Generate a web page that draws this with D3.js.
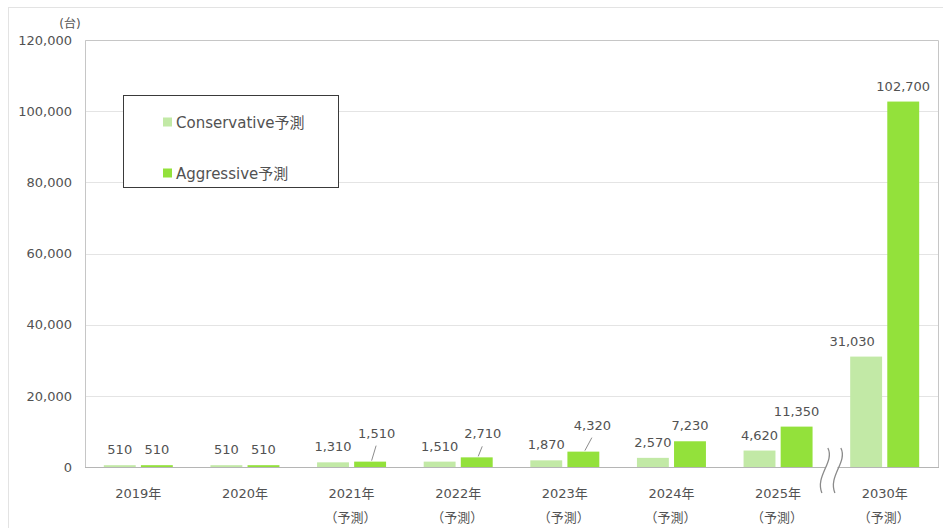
<!DOCTYPE html>
<html>
<head>
<meta charset="utf-8">
<script src="https://cdn.jsdelivr.net/npm/d3@7"></script>
<style>
  html, body { margin: 0; padding: 0; background: #fff; }
  svg { display: block; }
  text { font-family: "DejaVu Sans", "Noto Sans CJK JP", sans-serif; fill: #525252; }
</style>
</head>
<body>
<svg id="chart" width="943" height="528"></svg>
<script>
// ---- data ----
const categories = ["2019年", "2020年", "2021年", "2022年", "2023年", "2024年", "2025年", "2030年"];
const subLabels = ["", "", "（予測）", "（予測）", "（予測）", "（予測）", "（予測）", "（予測）"];
const seriesNames = ["Conservative予測", "Aggressive予測"];
const conservative = [510, 510, 1310, 1510, 1870, 2570, 4620, 31030];
const aggressive = [510, 510, 1510, 2710, 4320, 7230, 11350, 102700];
const yTicks = [0, 20000, 40000, 60000, 80000, 100000, 120000];
const yUnit = "(台)";

// ---- styles / layout ----
const colors = ["#c2e9a6", "#93e13b"];
const textColor = "#525252";
const plot = { left: 85, right: 938, top: 40, bottom: 467 };

const svg = d3.select("#chart");

// outer frame
svg.append("rect").attr("x", 8.5).attr("y", 7.5).attr("width", 960).attr("height", 560)
  .attr("fill", "none").attr("stroke", "#e3e3e3");

const x0 = d3.scaleBand().domain(categories).range([plot.left, plot.right]).padding(0);
const x1 = d3.scaleBand().domain(seriesNames).range([-34.5, 34.5]).paddingInner(0.14).paddingOuter(0);
const y = d3.scaleLinear().domain([0, 120000]).range([plot.bottom, plot.top]);

// gridlines
const grid = svg.append("g")
  .attr("transform", `translate(${plot.left},0)`)
  .call(d3.axisLeft(y).tickValues(yTicks).tickSize(-(plot.right - plot.left)).tickFormat(""));
grid.select(".domain").remove();
grid.selectAll("line").attr("stroke", "#e4e4e4").attr("shape-rendering", "crispEdges");

// plot border (top, left, right)
svg.append("path")
  .attr("d", `M${plot.left + 0.5},${plot.bottom}V${plot.top + 0.5}H${plot.right + 0.5}V${plot.bottom}`)
  .attr("fill", "none").attr("stroke", "#c6c6c6");

// y axis labels
const yAxis = svg.append("g")
  .attr("transform", `translate(${plot.left - 13},0)`)
  .call(d3.axisLeft(y).tickValues(yTicks).tickSize(0).tickPadding(0).tickFormat(d3.format(",")));
yAxis.select(".domain").remove();
yAxis.selectAll("text").attr("font-size", 13)
  .style("font-family", "\"DejaVu Sans\", sans-serif").attr("fill", textColor);

svg.append("text").attr("x", 70).attr("y", 28).attr("text-anchor", "middle")
  .attr("font-size", 12).text(yUnit);

// bars
const rows = categories.map((c, i) => ({ cat: c, vals: [conservative[i], aggressive[i]] }));
const groups = svg.append("g").selectAll("g").data(rows).join("g")
  .attr("transform", d => `translate(${x0(d.cat) + x0.bandwidth() / 2},0)`);

groups.selectAll("rect").data(d => d.vals.map((v, k) => ({ v, k, s: seriesNames[k] }))).join("rect")
  .attr("x", d => x1(d.s))
  .attr("width", x1.bandwidth())
  .attr("y", d => y(d.v))
  .attr("height", d => y(0) - y(d.v))
  .attr("fill", d => colors[d.k]);

// bottom axis line
svg.append("line").attr("x1", plot.left).attr("x2", plot.right + 1)
  .attr("y1", plot.bottom + 0.5).attr("y2", plot.bottom + 0.5)
  .attr("stroke", "#b5b5b5");

// value labels (placement tweaks keyed by "category index-series index")
const labelAdjust = {
  "2-1": { dx: 6.5, lift: 13, leader: true },
  "3-1": { dx: 6, lift: 8, leader: true },
  "4-1": { dx: 9, lift: 11, leader: true },
  "7-0": { dx: -14, lift: 0, leader: false }
};
const fmt = d3.format(",");
rows.forEach((r, i) => {
  r.vals.forEach((v, k) => {
    const cx = x0(r.cat) + x0.bandwidth() / 2 + x1(seriesNames[k]) + x1.bandwidth() / 2;
    const top = y(v);
    const adj = labelAdjust[`${i}-${k}`] || { dx: 0, lift: 0, leader: false };
    const base = top - 11 - adj.lift;
    svg.append("text").attr("x", cx + adj.dx).attr("y", base)
      .attr("text-anchor", "middle").attr("font-size", 13).text(fmt(v));
    if (adj.leader) {
      svg.append("line")
        .attr("x1", cx + 1.5).attr("y1", top - 1)
        .attr("x2", cx + adj.dx - 0.5).attr("y2", base + 8)
        .attr("stroke", "#8c8c8c").attr("stroke-width", 1);
    }
  });
});

// category labels
const xl = svg.append("g");
categories.forEach((c, i) => {
  const cx = x0(c) + x0.bandwidth() / 2;
  xl.append("text").attr("x", cx).attr("y", 498).attr("text-anchor", "middle")
    .attr("font-size", 13).text(c);
  if (subLabels[i]) {
    xl.append("text").attr("x", cx - 1).attr("y", 522).attr("text-anchor", "middle")
      .attr("font-size", 13).text(subLabels[i]);
  }
});

// axis break mark between last two categories
const bx = x0(categories[7]);
svg.append("rect").attr("x", bx - 6).attr("y", plot.bottom - 2).attr("width", 12).attr("height", 5).attr("fill", "#fff");
[-6.5, 6.5].forEach(off => {
  const cx = bx + off;
  svg.append("path")
    .attr("d", `M${cx + 3},448 C${cx + 10},462 ${cx - 10},476 ${cx - 3},493`)
    .attr("fill", "none").attr("stroke", "#8a8a8a").attr("stroke-width", 1.3);
});

// legend
const lg = svg.append("g");
lg.append("rect").attr("x", 123.5).attr("y", 95.5).attr("width", 215).attr("height", 92)
  .attr("fill", "#fff").attr("stroke", "#3a3a3a").attr("stroke-width", 1);
seriesNames.forEach((s, k) => {
  const cy = 122 + k * 51;
  lg.append("rect").attr("x", 163).attr("y", cy - 4.5).attr("width", 9).attr("height", 9).attr("fill", colors[k]);
  lg.append("text").attr("x", 176).attr("y", cy + 5.5).attr("font-size", 15).text(s);
});
</script>
</body>
</html>
